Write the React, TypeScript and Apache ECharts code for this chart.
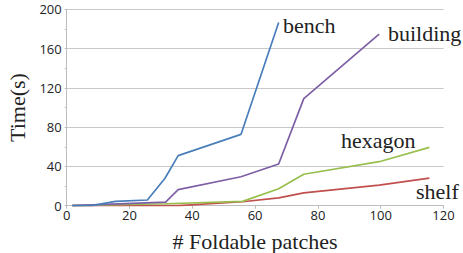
import React, { useEffect, useRef } from "react";
import * as echarts from "echarts";

const benchX = [1.8, 8, 15.5, 25.7, 31.3, 35.5, 55.5, 67.5];
const benchY = [0, 0, 4.4, 5.8, 28, 51, 72.6, 186.5];
const buildingX = [1.8, 31.5, 35.5, 55.5, 67.5, 75.5, 99.5];
const buildingY = [0, 3.7, 16.3, 29.5, 42.4, 109, 174.7];
const hexagonX = [1.8, 31.5, 56, 67.5, 75.5, 99.5, 115.5];
const hexagonY = [0, 2, 4.4, 17.3, 32, 44.8, 59.4];
const shelfX = [1.8, 35.5, 56, 67.5, 75.5, 99.5, 115.5];
const shelfY = [0, 0, 4, 8, 13, 21, 28];

const seriesNames = ["bench", "building", "hexagon", "shelf"];
const seriesColors = ["#4a7ebb", "#7d5fa6", "#98bf4e", "#c0504d"];
const yTicks = [0, 40, 80, 120, 160, 200];
const xTicks = [0, 20, 40, 60, 80, 100, 120];

const zip = (xs: number[], ys: number[]) => xs.map((x, i) => [x, ys[i]]);

const SERIF = "'Liberation Serif', 'Times New Roman', serif";

export default function App() {
  const ref = useRef<HTMLDivElement>(null);
  useEffect(() => {
    if (!ref.current) return;
    const chart = echarts.init(ref.current, undefined, { renderer: "svg" });
    const data = [zip(benchX, benchY), zip(buildingX, buildingY), zip(hexagonX, hexagonY), zip(shelfX, shelfY)];
    const labelPos = [
      [283, 27],
      [388, 35],
      [341, 142],
      [416, 193],
    ];
    chart.setOption({
      animation: false,
      grid: { left: 66.7, right: 19.5, top: 9.3, bottom: 47.3, containLabel: false, outerBoundsMode: "none" },
      xAxis: {
        type: "value",
        min: xTicks[0],
        max: xTicks[xTicks.length - 1],
        interval: 20,
        axisLine: { show: true, lineStyle: { color: "#bdbdbd", width: 1 } },
        axisTick: { show: true, length: 3, lineStyle: { color: "#bdbdbd" } },
        splitLine: { show: false },
        axisLabel: { color: "#222", fontSize: 13, fontFamily: "Open Sans", margin: 3 },
        name: "# Foldable patches",
        nameLocation: "middle",
        nameGap: 25,
        nameTextStyle: { fontFamily: SERIF, fontSize: 22, color: "#222" },
      },
      yAxis: {
        type: "value",
        min: yTicks[0],
        max: yTicks[yTicks.length - 1],
        interval: 40,
        axisLine: { show: true, lineStyle: { color: "#bdbdbd", width: 1 } },
        axisTick: { show: true, length: 2, lineStyle: { color: "#bdbdbd" } },
        minorTick: { show: true, splitNumber: 2, length: 2, lineStyle: { color: "#bdbdbd" } },
        splitLine: { show: true, lineStyle: { color: "#c8c8c8", width: 1 } },
        axisLabel: { color: "#222", fontSize: 13, fontFamily: "Open Sans", margin: 5 },
        name: "Time(s)",
        nameLocation: "middle",
        nameGap: 38,
        nameRotate: 90,
        nameTextStyle: { fontFamily: SERIF, fontSize: 22, color: "#222" },
      },
      series: seriesNames.map((n, i) => ({
        name: n,
        type: "line",
        data: data[i],
        showSymbol: false,
        symbol: "none",
        lineStyle: { color: seriesColors[i], width: 1.7 },
        z: 10 - i,
      })),
      graphic: seriesNames.map((n, i) => ({
        type: "text",
        left: labelPos[i][0],
        top: labelPos[i][1] - 13,
        style: { text: n, font: "22px " + SERIF, fill: "#222" },
      })),
    });
    return () => chart.dispose();
  }, []);
  return <div ref={ref} style={{ width: 463, height: 253, position: "absolute", left: 0, top: 0 }} />;
}
